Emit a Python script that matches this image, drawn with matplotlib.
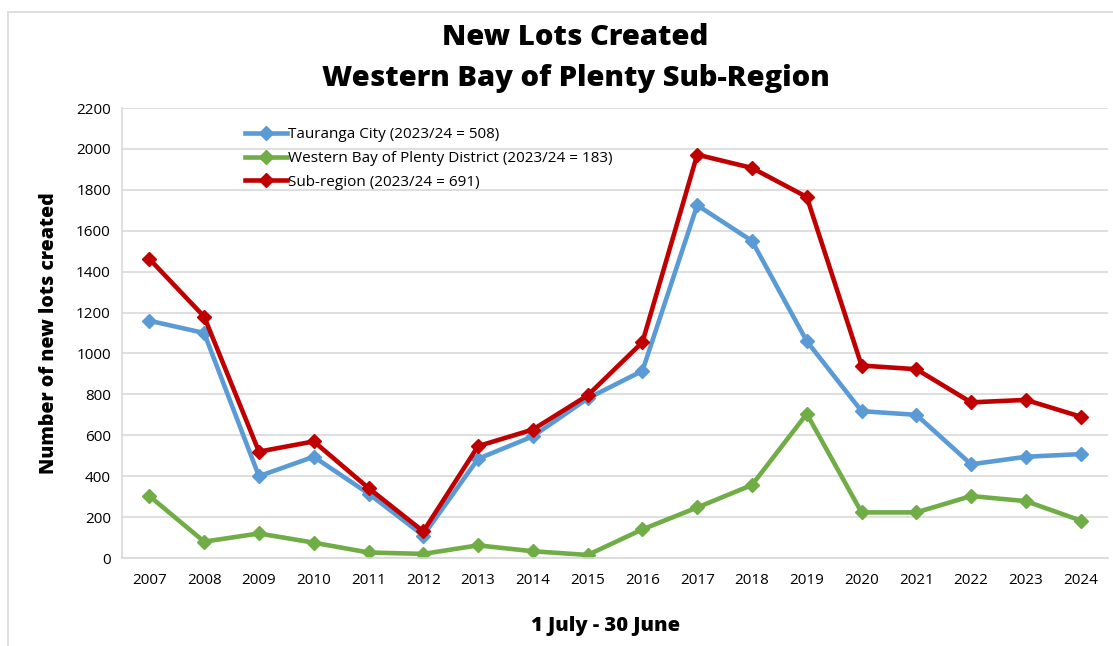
import matplotlib
matplotlib.use("Agg")
import matplotlib.pyplot as plt
from matplotlib.patches import Rectangle

years = [str(y) for y in range(2007, 2025)]
tauranga = [1160, 1100, 400, 495, 315, 110, 485, 595, 780, 915, 1725, 1550, 1060, 718, 700, 458, 495, 508]
wbop = [303, 80, 120, 75, 27, 20, 62, 33, 15, 140, 247, 357, 705, 223, 223, 303, 278, 183]
subregion = [1462, 1180, 520, 570, 342, 130, 547, 628, 795, 1055, 1972, 1907, 1765, 941, 923, 761, 773, 691]
labels = ["Tauranga City (2023/24 = 508)",
          "Western Bay of Plenty District (2023/24 = 183)",
          "Sub-region (2023/24 = 691)"]
colors = ["#5B9BD5", "#70AD47", "#C00000"]
yticks = list(range(0, 2201, 200))

plt.rcParams['font.family'] = ['Open Sans', 'DejaVu Sans']

fig = plt.figure(figsize=(11.13, 6.46), dpi=100)
ax = fig.add_axes([0.1096, 0.1362, 0.886, 0.6966])

x = list(range(len(years)))
for vals, lab, c in zip([tauranga, wbop, subregion], labels, colors):
    ax.plot(x, vals, color=c, lw=3.3, marker='D', ms=7, mec=c, mfc=c, label=lab)

ax.set_xlim(-0.5, len(years) - 0.5)
ax.set_ylim(0, 2200)
ax.set_yticks(yticks)
ax.set_xticks(x)
ax.set_xticklabels(years)
ax.tick_params(axis='both', length=0, labelsize=11, colors='#000000')
ax.tick_params(axis='x', pad=11)
ax.tick_params(axis='y', pad=8)
ax.grid(axis='y', color='#D9D9D9', lw=1.2)
ax.set_axisbelow(True)
for s in ['top', 'right']:
    ax.spines[s].set_visible(False)
ax.spines['left'].set_color('#D9D9D9')
ax.spines['bottom'].set_color('#D9D9D9')
ax.spines['left'].set_linewidth(1.2)
ax.spines['bottom'].set_linewidth(1.2)

ax.set_ylabel("Number of new lots created", fontsize=14, fontweight='heavy', labelpad=12)
ax.set_xlabel("1 July - 30 June", fontsize=14.5, fontweight='heavy')
ax.xaxis.set_label_coords(0.49, -0.128)

fig.text(0.517, 0.942, "New Lots Created", ha='center', va='center', fontsize=21, fontweight='heavy')
fig.text(0.517, 0.878, "Western Bay of Plenty Sub-Region", ha='center', va='center', fontsize=21, fontweight='heavy')

leg = ax.legend(loc='upper left', bbox_to_anchor=(0.115, 0.978), frameon=False, fontsize=11,
                handlelength=2.8, handletextpad=0.05, labelspacing=0.58, borderaxespad=0.2)

fig.patches.append(Rectangle((8 / 1113, -0.1), 1.2, 1 - 12 / 646 + 0.1, transform=fig.transFigure,
                             fill=False, edgecolor='#D9D9D9', lw=1.2))

fig.savefig("out.png", dpi=100)
